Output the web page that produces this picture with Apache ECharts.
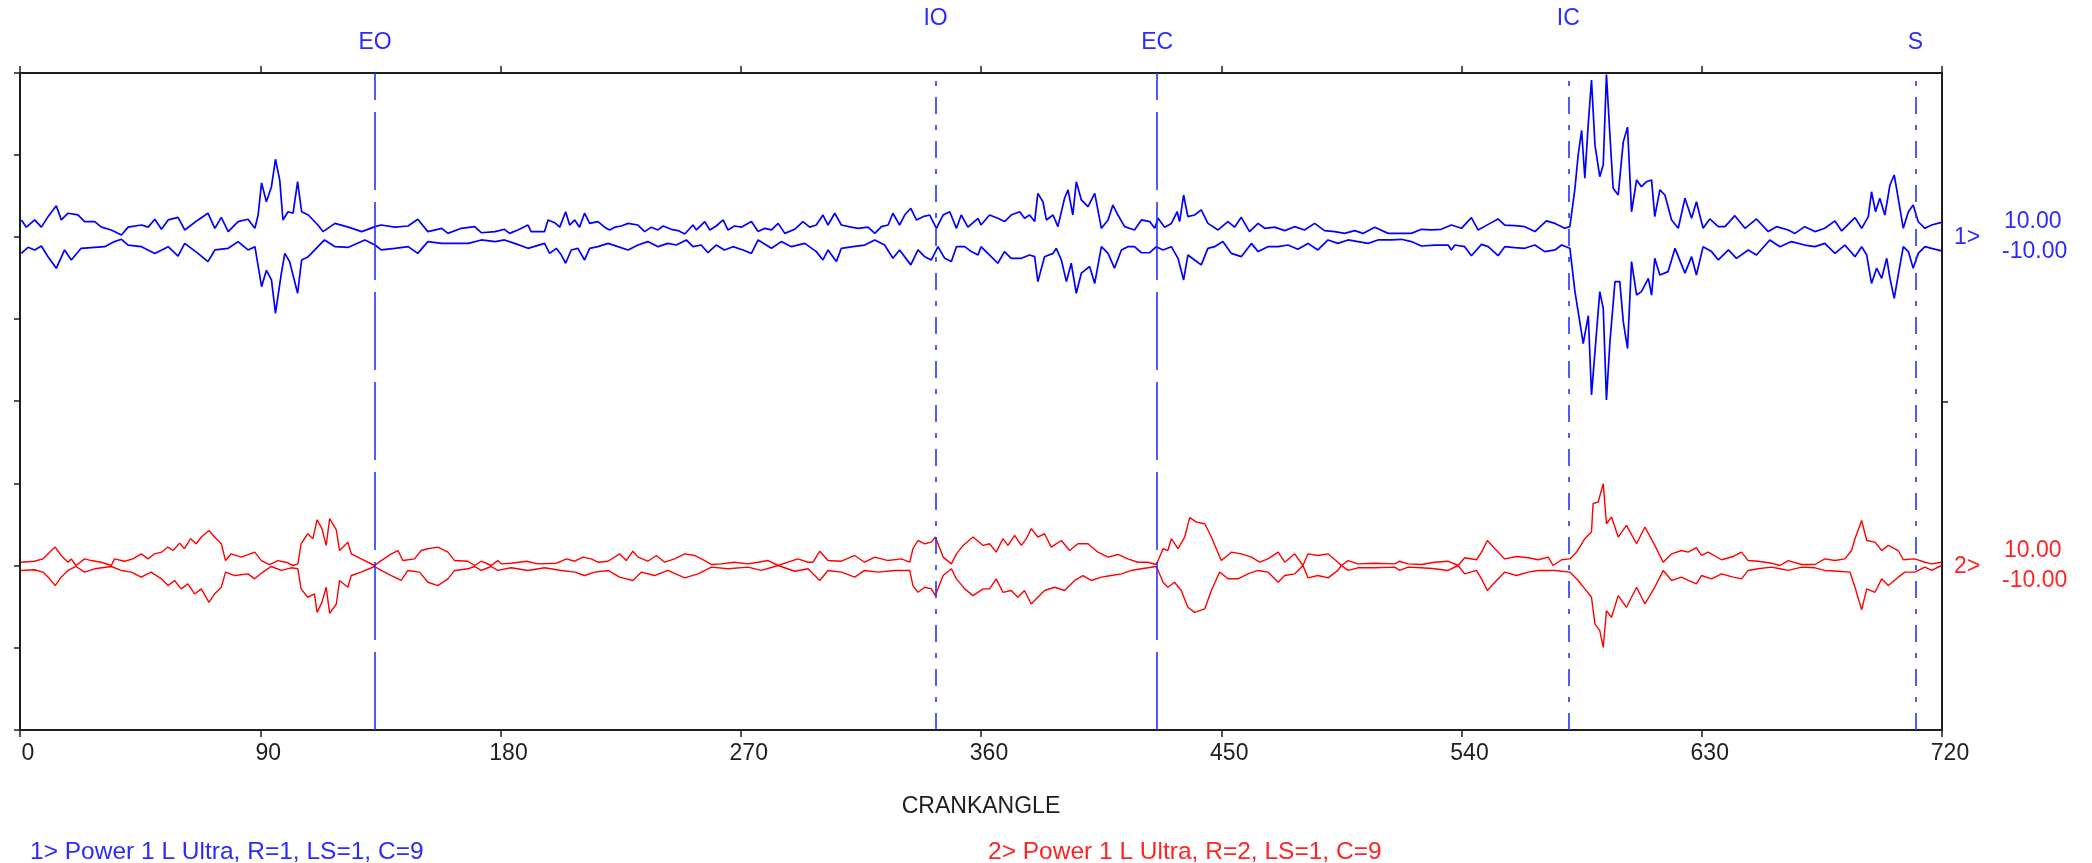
<!DOCTYPE html>
<html><head><meta charset="utf-8">
<script src="https://cdn.jsdelivr.net/npm/echarts@6/dist/echarts.min.js"></script>
<style>html,body{margin:0;padding:0;background:#fff}#c{width:2092px;height:863px}</style>
</head><body><div id="c"></div>
<script>
// ---------------- DATA ----------------
const xTickLabels = ['0','90','180','270','360','450','540','630','720'];
const xAxisName = 'CRANKANGLE';
const markerNames = ['EO','IO','EC','IC','S'];
const markerAngles = [133, 343, 426, 580, 710];
const channelTags = ['1>','2>'];
const channelMax = ['10.00','10.00'];
const channelMin = ['-10.00','-10.00'];
const legendTexts = ['1> Power 1 L Ultra, R=1, LS=1, C=9','2> Power 1 L Ultra, R=2, LS=1, C=9'];

// channel 1 (blue) upper / lower envelopes  [crank angle, value]
const blueUpper = [[0.5,1.04],[2.4,0.6],[5.5,1.04],[8,0.6],[10.5,1.24],[13.6,1.9],[15.5,1.04],[18,1.45],[21.7,1.35],[24.2,0.94],[28,0.94],[30.5,0.6],[34.2,0.43],[38,0.12],[40.5,0.6],[45.5,0.73],[48,0.6],[50.5,1.08],[53,0.47],[55.5,1.04],[59.2,1.2],[61.7,0.43],[66.7,1.04],[70.4,1.45],[73,0.53],[75.4,1.2],[78,0.33],[81.7,0.94],[85.4,1.08],[88,0.53],[89.2,1.34],[90.5,3.3],[92.3,2.15],[94.2,3.07],[95.7,4.74],[97.3,3.47],[98.5,1.04],[100.4,1.54],[102.3,1.45],[104,3.37],[105.5,1.54],[108,1.34],[111.6,0.73],[113.5,0.33],[118,0.83],[123,0.6],[128,0.33],[133,0.63],[135.3,0.73],[140.4,0.6],[145.4,0.67],[149,1.08],[152.8,0.33],[158,0.53],[160.3,0.22],[165.3,0.53],[170.3,0.63],[172.8,0.26],[178,0.33],
[181.5,0.47],[183.4,0.22],[186.5,0.43],[190.3,0.73],[191.5,0.33],[196.5,0.33],[197.8,1.04],[200.3,0.87],[202.2,0.6],[204.4,1.54],[205.9,0.73],[207.8,1.04],[209.6,0.6],[211.5,1.45],[213.4,0.83],[216.5,0.94],[219,0.6],[220.9,0.43],[222.8,0.6],[225.3,0.67],[227.8,0.83],[231.5,0.73],[234,0.33],[236.5,0.6],[239,0.43],[240.9,0.67],[244,0.47],[246.5,0.39],[249,0.18],[252.1,0.73],[253.4,0.43],[256.5,0.94],[258.4,0.43],[260.8,0.67],[263.4,1.04],[265.2,0.43],[267.7,0.67],[270.2,0.6],[274,0.94],[276.5,0.33],[279,0.53],[281.5,0.43],[284,0.83],[286.5,0.22],[290.2,0.47],[293.3,0.94],[295.8,0.6],[298.3,0.73],[300.8,1.34],[302.7,0.73],[305.2,1.45],[307.7,0.73],[311.4,0.6],[314,0.53],[317.7,0.6],[320.2,0.22],[322.7,0.63],[325.2,0.73],[327,1.45],[329.5,0.73],[331.4,1.34],[333.7,1.75],[335.8,1.04],[338.3,1.24],[340.8,1.34],[343.3,0.53],[345.8,1.34],[348.3,1.54],[350.8,0.53],[352.6,1.34],[355.1,0.6],[358.9,1.14],
[360,0.73],[363.2,1.34],[366.3,1.14],[368.8,0.94],[371.3,1.34],[374.5,1.54],[376.3,1.14],[378.2,1.34],[380.1,0.94],[381.3,2.66],[383.2,2.15],[384.5,1.04],[387,1.34],[388.8,0.63],[391.3,2.36],[392.6,2.87],[394.4,1.34],[395.7,3.37],[397.6,2.26],[400.1,1.85],[402.6,2.66],[405.1,0.53],[407.6,1.04],[409.4,1.95],[411.3,1.34],[413.8,0.63],[417.5,0.43],[420.1,1.04],[423.2,0.94],[425.1,0.53],[426.3,1.14],[428.8,0.6],[431.3,0.83],[433.5,1.54],[434.4,0.94],[435.9,2.56],[437.5,1.24],[440,1.34],[442.5,1.65],[445,0.83],[448.8,0.43],[452.5,0.94],[455,0.6],[457.5,1.2],[460.6,0.33],[463.8,0.83],[466.3,0.53],[470,0.6],[473.8,0.39],[477.5,0.63],[481.2,0.43],[485,0.83],[488.7,0.39],[492.5,0.33],[496.2,0.22],[500,0.39],[503.1,0.22],[507.5,0.6],[512.5,0.22],[517.5,0.22],[521.2,0.22],[525,0.47],[528.7,0.43],[532.4,0.47],[536.2,0.73],
[540,0.53],[543.7,1.18],[546.2,0.43],[550,0.77],[553.7,1.1],[556.2,0.73],[560,0.69],[563.7,0.63],[567.5,0.33],[571.8,0.98],[575,0.83],[578.7,0.53],[580.6,0.63],[582.5,2.97],[583.7,5.0],[585,6.5],[586.2,3.58],[587.5,6.93],[588.7,9.57],[590,5.6],[591.8,3.68],[593.1,4.4],[594.3,9.9],[595.6,6.2],[596.8,2.97],[598.7,2.56],[600.6,5.8],[602.2,6.7],[603.7,1.54],[605.6,3.48],[607.4,3.07],[609.3,3.37],[611.2,3.48],[612.4,1.24],[614.3,2.87],[616.2,2.56],[618.7,1.04],[621.2,0.53],[623.7,2.36],[626.2,1.14],[628,2.15],[630.5,0.53],[633,1.1],[636.2,0.63],[638.7,0.63],[642.4,1.3],[646.2,0.53],[650.5,1.1],[654.9,0.33],[658,0.63],[662.4,0.43],[664.9,0.22],[668.6,0.63],[672.4,0.33],[676.1,0.53],[679.9,0.98],[682.4,0.37],[687.4,1.18],[689.9,0.53],[692.4,1.24],[693.6,2.76],[695.1,1.54],[696.7,2.36],[698.6,1.34],[700.5,3.17],[702.1,3.78],[703.6,2.36],[705.5,0.53],[707.4,1.54],[709.2,1.95],[711.1,0.93],[713.6,0.53],[716.1,0.73],[719.8,0.89]];

const blueLower = [[0.5,-1.0],[3,-0.63],[5.5,-0.79],[8,-0.55],[10.5,-1.2],[13.6,-1.91],[16.7,-0.79],[19.2,-1.4],[22.9,-0.69],[28,-0.63],[31.7,-0.59],[35.4,-0.28],[38,-0.14],[40.5,-0.49],[45.5,-0.59],[50.5,-1.0],[55.5,-0.59],[59.2,-1.16],[61.7,-0.39],[66.7,-1.0],[70.4,-1.5],[73,-0.79],[78,-0.69],[81.7,-0.28],[85.4,-0.79],[88,-0.59],[90.5,-3.03],[92.3,-2.03],[94.2,-2.62],[95.7,-4.65],[97.9,-2.22],[99.2,-1.0],[101,-1.5],[104,-3.43],[105.5,-1.4],[108,-1.2],[111.6,-0.59],[114.1,-0.18],[118,-0.59],[123,-0.63],[129.2,-0.18],[133,-0.49],[135.3,-0.79],[140.4,-0.69],[145.4,-0.59],[149,-1.0],[152.8,-0.28],[158,-0.39],[163,-0.39],[168,-0.39],[172.8,-0.18],[178,-0.28],
[181.5,-0.18],[185.3,-0.39],[190.3,-0.69],[196.5,-0.39],[198.4,-1.0],[200.9,-0.69],[202.8,-1.1],[204.4,-1.6],[206.5,-0.79],[209,-0.69],[211.5,-1.4],[213.4,-0.69],[216.5,-0.59],[220.3,-0.39],[224,-0.59],[227.8,-0.79],[231.5,-0.49],[235.2,-0.28],[239,-0.59],[242.7,-0.39],[245.9,-0.49],[249.6,-0.18],[252.1,-0.59],[255.2,-0.49],[257.7,-0.96],[260.8,-0.49],[263.9,-0.79],[267.1,-0.59],[270.8,-0.79],[274,-1.0],[276.5,-0.18],[281.5,-0.69],[285.2,-0.28],[289,-0.59],[294,-0.39],[298.3,-0.89],[300.8,-1.4],[302.7,-0.79],[305.8,-1.5],[307.7,-0.69],[312,-0.59],[316.4,-0.49],[320.2,-0.18],[323.9,-0.49],[327,-1.3],[329.5,-0.79],[333.7,-1.7],[336.4,-0.79],[338.9,-1.2],[341.4,-1.4],[343.9,-0.59],[346.4,-1.3],[348.9,-1.5],[350.8,-0.59],[353.9,-0.59],[356.4,-0.89],[358.9,-1.1],
[360,-0.59],[363.8,-1.2],[366.3,-1.6],[368.8,-0.89],[371.3,-1.3],[375.1,-1.3],[378.2,-1.1],[380.1,-1.2],[381.3,-2.72],[383.8,-1.2],[387,-1.0],[388.2,-0.69],[390.1,-1.4],[392,-2.72],[393.8,-1.6],[395.7,-3.43],[397.6,-2.2],[400.7,-1.8],[402.6,-2.83],[405.1,-0.59],[407.6,-1.0],[410,-1.9],[412.6,-0.79],[415,-0.59],[417.5,-0.59],[420.1,-0.96],[423.2,-0.96],[425.7,-0.59],[428.2,-0.79],[431.3,-0.59],[433.8,-1.3],[435.9,-2.62],[437.5,-1.1],[440,-1.4],[442.5,-1.7],[445,-0.69],[447.5,-0.59],[450.6,-0.28],[453.8,-1.0],[457.5,-1.2],[461.3,-0.39],[463.8,-0.89],[467.5,-0.59],[471.3,-0.59],[475,-0.49],[478.7,-0.75],[482.5,-0.39],[486.2,-0.79],[490,-0.18],[493.7,-0.39],[497.5,-0.18],[501.2,-0.28],[505,-0.39],[508.7,-0.18],[513.7,-0.18],[517.5,-0.14],[521.2,-0.28],[525,-0.55],[530,-0.49],[535,-0.49],[536.2,-0.79],
[537.5,-0.49],[541.2,-0.59],[543.7,-1.14],[547.5,-0.45],[550,-0.59],[553.7,-1.14],[556.2,-0.59],[560,-0.65],[563.7,-0.69],[567.5,-0.49],[571.2,-0.89],[575,-0.79],[577.5,-0.49],[580.6,-0.69],[582.5,-3.33],[584.3,-5.16],[585.6,-6.5],[587.5,-4.8],[588.7,-9.63],[590,-7.0],[591.8,-3.33],[593.1,-4.35],[594.3,-9.94],[595.6,-6.4],[597.5,-2.72],[599.3,-2.72],[600.6,-5.16],[602.2,-6.8],[603.7,-1.5],[605.6,-3.54],[607.4,-3.33],[610,-2.52],[611.2,-3.54],[612.4,-1.3],[614.3,-2.32],[617.4,-2.11],[620,-0.69],[623.7,-2.2],[626.2,-1.2],[628,-2.32],[630.5,-0.59],[633.7,-0.89],[636.2,-1.4],[640,-0.79],[643,-1.3],[647.4,-0.79],[650.5,-1.1],[655.5,-0.18],[659.3,-0.59],[663.6,-0.28],[668.6,-0.49],[672.4,-0.59],[676.1,-0.39],[679.9,-1.0],[683.6,-0.49],[687.4,-1.2],[689.9,-0.59],[691.8,-1.1],[693.6,-2.83],[695.5,-1.9],[697.4,-2.52],[699.3,-1.3],[700.5,-2.52],[702.1,-3.74],[703.6,-2.32],[705.5,-0.59],[707.4,-0.89],[709.2,-1.9],[711.1,-1.0],[713.6,-0.59],[716.1,-0.69],[719.8,-0.85]];

// channel 2 (red) upper / lower envelopes  [crank angle, value]
const redUpper = [[0.4,0.2],[5.4,0.26],[8.6,0.4],[11.1,0.81],[13.2,1.12],[15.4,0.61],[18,0.2],[19.2,0.4],[21,0.0],[24.2,0.4],[26.7,0.3],[30.4,0.2],[34.2,0.0],[35.4,0.4],[39.2,0.26],[42.3,0.4],[45.4,0.71],[48,0.4],[50.4,0.71],[53,0.81],[55.4,1.12],[57.3,0.91],[59.8,1.36],[61.6,1.02],[63.9,1.63],[66,1.32],[67.9,1.73],[70.8,2.13],[72.9,1.73],[75.4,1.32],[77,0.3],[79.1,0.71],[82.9,0.51],[87.9,0.81],[90.4,0.3],[93.5,0.06],[96.6,0.3],[99.7,0.2],[102.2,0.0],[104.1,0.1],[105.3,1.32],[107.8,1.93],[109.7,1.63],[111.3,2.78],[113.1,2.24],[114.7,1.22],[116,2.85],[118.5,2.17],[119.7,0.91],[122.8,1.42],[124.1,0.71],[127.8,0.4],[132.8,0.0],[135.3,0.3],[139.1,0.71],[141.6,0.91],[143.4,0.3],[147.8,0.4],[150.3,0.91],[152.8,1.02],[156.5,1.12],[160.3,0.81],[162.8,0.3],[167.8,0.26],[170.3,0.0],[172.8,0.26],[176.5,0.0],[179,0.3],
[180.3,0.1],[184,0.14],[189.7,0.26],[194,0.1],[200.9,0.14],[202.8,0.26],[204.7,0.4],[207.8,0.26],[210.9,0.51],[214,0.4],[216.5,0.2],[220.3,0.26],[224.6,0.71],[227.1,0.3],[229.6,0.87],[231.5,0.51],[235.2,0.26],[238.4,0.61],[241.5,0.2],[245.2,0.4],[249,0.71],[252.7,0.61],[256.5,0.3],[259,0.06],[262.7,0.1],[267.7,0.2],[272.7,0.1],[276.5,0.2],[280.2,0.3],[284,0.0],[287.7,0.2],[291.4,0.4],[295.2,0.2],[297.1,0.2],[299.6,0.87],[302.7,0.3],[307.7,0.26],[312.7,0.61],[316.4,0.2],[320.2,0.51],[325.2,0.3],[330.2,0.4],[333.3,0.2],[334.5,1.02],[336.4,1.52],[338.9,1.32],[341.4,1.42],[342.9,1.73],[345.8,0.51],[348.9,0.1],[350.8,0.71],[353.3,1.22],[357,1.73],[360.8,1.22],
[363.2,1.32],[365.7,0.81],[368.2,1.63],[370.1,1.22],[372.6,1.83],[375.1,1.22],[377,1.63],[378.8,2.24],[381.3,1.73],[383.8,1.93],[386.3,1.12],[390.1,1.52],[393.2,0.91],[396.3,1.32],[400.1,1.32],[403.8,0.81],[407.6,0.51],[411.3,0.67],[415,0.4],[418.8,0.2],[422.5,0.2],[425.7,0.06],[428.2,1.02],[430,0.91],[431.3,1.63],[433.8,1.02],[436.3,1.73],[438.2,2.91],[440.7,2.64],[443.8,2.54],[446.3,1.73],[450,0.3],[453.8,0.81],[457.5,0.71],[461.3,0.51],[464.4,0.2],[467.5,0.4],[471.3,0.81],[473.8,0.2],[477.5,0.71],[480.6,0.0],[482.5,0.71],[486.2,0.61],[490,0.71],[493.7,0.2],[495,0.0],[497.5,0.3],[501.2,0.1],[507.5,0.14],[515,0.1],[516.8,0.26],[520,0.1],[525,0.06],[530,0.2],[535,0.26],[538.7,0.0],
[541.2,0.47],[545.6,0.35],[547.5,0.81],[549.7,1.52],[552.5,1.02],[556.2,0.4],[560.6,0.55],[565,0.47],[568.7,0.35],[572.5,0.51],[574.3,0.0],[577.5,0.35],[580.6,0.4],[583.1,0.81],[586.2,1.63],[588.7,2.03],[589.3,3.76],[591.2,3.86],[593.1,4.98],[594.3,2.54],[596.2,2.95],[598.7,1.73],[601.8,2.44],[605.6,1.32],[608.7,2.34],[612.4,1.22],[615.6,0.2],[618.7,0.71],[622.4,0.91],[624.9,0.81],[628,1.08],[629.9,0.61],[632.4,0.81],[637.4,0.35],[641.8,0.55],[644.9,0.81],[647.4,0.3],[651.1,0.26],[656.1,0.14],[659.3,0.0],[662.4,0.3],[667.4,0.06],[672.4,0.06],[676.1,0.4],[679.9,0.3],[683.6,0.4],[686.1,0.91],[687.4,1.63],[689.9,2.74],[691.8,1.52],[694.9,1.42],[697.4,0.91],[699.9,1.22],[703.6,0.91],[705.5,0.35],[709.8,0.4],[713.6,0.2],[716.1,0.1],[719.8,0.2]];

const redLower = [[0.4,-0.3],[5.4,-0.26],[8.6,-0.4],[11.1,-0.81],[13.2,-1.22],[15.4,-0.71],[18,-0.3],[21,-0.06],[24.2,-0.4],[27.9,-0.2],[34.2,-0.06],[37.9,-0.3],[41.7,-0.4],[45.4,-0.71],[49.1,-0.4],[53,-0.81],[55.4,-1.22],[57.9,-0.91],[60.4,-1.42],[62.9,-1.12],[65.4,-1.73],[67.9,-1.42],[70.8,-2.24],[72.9,-1.73],[75.4,-1.32],[77,-0.4],[80.4,-0.61],[85.4,-0.51],[87.9,-0.81],[91,-0.4],[94.1,-0.06],[97.9,-0.3],[101.6,-0.14],[104.1,-0.2],[105.3,-1.42],[107.8,-1.93],[110.3,-1.73],[111.3,-2.85],[113.1,-2.24],[114.7,-1.32],[116,-2.91],[118.5,-2.34],[119.7,-0.91],[122.8,-1.32],[124.1,-0.61],[127.8,-0.4],[132.8,-0.06],[135.3,-0.3],[139.1,-0.61],[142.8,-0.91],[145.3,-0.3],[149.7,-0.4],[152.8,-1.02],[156.5,-1.22],[160.3,-0.81],[162.8,-0.3],[167.8,-0.2],[170.3,-0.06],[172.8,-0.3],[176.5,-0.06],[179,-0.3],
[184,-0.14],[190.3,-0.3],[196.5,-0.14],[202.8,-0.3],[207.8,-0.4],[211.5,-0.61],[215.3,-0.4],[220.3,-0.3],[224.6,-0.71],[229.6,-0.91],[232.8,-0.4],[237.7,-0.61],[242.7,-0.3],[249,-0.75],[254,-0.51],[259,-0.1],[265.2,-0.2],[272.7,-0.1],[277.7,-0.3],[284,0.0],[290.2,-0.35],[295.2,-0.2],[299.6,-0.91],[302.7,-0.3],[307.7,-0.4],[312.7,-0.71],[316.4,-0.3],[321.4,-0.4],[327.7,-0.3],[333.3,-0.3],[334.5,-1.22],[336.4,-1.63],[338.9,-1.32],[341.4,-1.42],[342.9,-1.83],[345.8,-0.61],[348.9,-0.2],[350.8,-0.81],[353.9,-1.42],[357,-1.83],[360.8,-1.42],
[363.2,-1.42],[365.7,-0.81],[368.2,-1.63],[371.3,-1.52],[373.8,-1.93],[376.3,-1.52],[378.8,-2.34],[381.3,-1.93],[383.8,-1.52],[387.6,-1.32],[391.3,-1.52],[395.1,-0.91],[398.2,-0.61],[401.3,-0.91],[405.1,-0.71],[408.8,-0.61],[412.6,-0.51],[416.3,-0.3],[420.1,-0.2],[425.7,-0.06],[428.2,-1.02],[430,-1.32],[432.5,-1.02],[435,-1.52],[437.5,-2.54],[440,-2.85],[443.8,-2.64],[446.3,-1.52],[449.4,-0.4],[452.5,-0.81],[456.3,-0.81],[460,-0.51],[463.8,-0.3],[467.5,-0.4],[471.3,-1.02],[473.8,-0.61],[477.5,-0.51],[480.6,0.0],[482.5,-0.75],[486.2,-0.61],[490,-0.75],[493.7,-0.3],[495,0.0],[497.5,-0.3],[501.2,-0.14],[507.5,-0.14],[515,-0.1],[516.8,-0.3],[520,-0.1],[525,-0.14],[530,-0.2],[535,-0.3],[538.7,0.0],
[541.2,-0.51],[545.6,-0.3],[547.5,-0.81],[549.7,-1.52],[552.5,-1.02],[556.2,-0.4],[560.6,-0.61],[565,-0.4],[568.7,-0.3],[572.5,-0.3],[575,-0.3],[580.6,-0.4],[583.7,-0.91],[586.2,-1.42],[588.7,-1.93],[590,-3.56],[591.8,-3.96],[593.1,-4.98],[594.3,-2.74],[596.2,-3.15],[598.7,-1.83],[601.8,-2.54],[605.6,-1.32],[608.7,-2.34],[612.4,-1.32],[615.6,-0.3],[618.7,-0.91],[622.4,-0.71],[624.9,-0.91],[628,-1.12],[629.9,-0.61],[633.7,-0.81],[637.4,-0.51],[641.8,-0.71],[644.9,-0.81],[647.4,-0.3],[651.1,-0.2],[656.1,-0.1],[659.3,-0.2],[662.4,-0.3],[667.4,-0.1],[672.4,-0.14],[676.1,-0.3],[681.1,-0.35],[685.5,-0.4],[687.4,-1.32],[689.9,-2.7],[691.8,-1.42],[694.9,-1.63],[697.4,-0.81],[699.9,-1.22],[703.6,-0.71],[706.1,-0.4],[709.8,-0.4],[713.6,-0.1],[716.1,-0.3],[719.8,0.0]];

// ---------------- RENDER ----------------
const chart = echarts.init(document.getElementById('c'), null, {renderer: 'canvas'});
const FONT = '"Liberation Sans", Arial, sans-serif';
const FS = 23, FS_LEGEND = 24.5;
const BLUE = '#0000ff', RED = '#ff0000', TBLUE = '#2b2bff', TRED = '#ff2424', AX = '#1e1e1e', MBLUE = '#2233ff';
const GL = 20, GRIGHT = 150, GT = 73, GH = 328;
const raisedMarkers = {IO: true, IC: true};
const longDash = [78, 12], dashDot = [17, 11, 5, 11];
const dashFor = n => (n === 'EO' || n === 'EC') ? longDash : dashDot;

const axisLineStyle = {color: AX, width: 2};
const baseX = {type: 'value', min: 0, max: 720, interval: 90, splitLine: {show: false}};
const baseY = {type: 'value', min: -10, max: 10, interval: 5, splitLine: {show: false},
  axisLine: {show: true, onZero: false, lineStyle: axisLineStyle},
  axisTick: {show: true, length: 6, lineStyle: {color: AX, width: 1.5}}, axisLabel: {show: false}};

const lineSeries = (data, xi, color, w) => ({type: 'line', xAxisIndex: xi, yAxisIndex: xi, data: data,
  showSymbol: false, symbol: 'none', silent: true, lineStyle: {color: color, width: w}, z: 3});

const option = {
  animation: false,
  backgroundColor: '#ffffff',
  grid: [
    {left: GL, right: GRIGHT, top: GT, height: GH},
    {left: GL, right: GRIGHT, top: GT + GH, height: GH + 1},
    {left: GL, right: GRIGHT, top: GT, height: 2 * GH + 1}
  ],
  xAxis: [
    Object.assign({}, baseX, {gridIndex: 0, position: 'top',
      axisLine: {show: true, onZero: false, lineStyle: axisLineStyle},
      axisTick: {show: true, length: 7, lineStyle: {color: AX, width: 1.5}}, axisLabel: {show: false}}),
    Object.assign({}, baseX, {gridIndex: 1, position: 'bottom',
      axisLine: {show: true, onZero: false, lineStyle: axisLineStyle},
      axisTick: {show: true, length: 7, lineStyle: {color: AX, width: 1.5}},
      axisLabel: {show: true, color: AX, fontSize: FS, fontFamily: FONT, margin: 12, padding: [0, 0, 0, 16],
        formatter: v => xTickLabels[Math.round(v / 90)]}}),
    Object.assign({}, baseX, {gridIndex: 2, show: false})
  ],
  yAxis: [
    Object.assign({}, baseY, {gridIndex: 0, position: 'left'}),
    Object.assign({}, baseY, {gridIndex: 1, position: 'left'}),
    {gridIndex: 2, type: 'value', min: 0, max: 2, interval: 1, position: 'right', splitLine: {show: false},
      axisLine: {show: true, onZero: false, lineStyle: axisLineStyle},
      axisTick: {show: true, length: 6, customValues: [1], lineStyle: {color: AX, width: 1.5}},
      axisLabel: {show: false}}
  ],
  series: [
    lineSeries(blueUpper, 0, BLUE, 1.7),
    lineSeries(blueLower, 0, BLUE, 1.7),
    lineSeries(redUpper, 1, RED, 1.4),
    lineSeries(redLower, 1, RED, 1.4),
    {type: 'line', xAxisIndex: 2, yAxisIndex: 2, data: [], silent: true, z: 2,
      markLine: {silent: true, symbol: ['none', 'none'], label: {show: false}, animation: false,
        data: markerAngles.map((a, i) => ({xAxis: a,
          lineStyle: {color: MBLUE, width: 1.6, type: dashFor(markerNames[i])}}))}}
  ]
};
chart.setOption(option);

// text overlays positioned through the chart's own scales
const txt = (text, x, y, color, align, size) => ({type: 'text', x: x, y: y, silent: true, z: 10,
  style: {text: text, fill: color, font: (size || FS) + 'px ' + FONT, align: align || 'center', verticalAlign: 'middle',
    textAlign: align || 'center', textVerticalAlign: 'middle'}});
const g = [];
markerNames.forEach((n, i) => {
  const px = chart.convertToPixel({xAxisIndex: 2}, markerAngles[i]);
  g.push(txt(n, px, raisedMarkers[n] ? GT - 54 : GT - 30, TBLUE));
});
const rightX = chart.convertToPixel({xAxisIndex: 2}, 720);
[0, 1].forEach(ch => {
  const cy = chart.convertToPixel({yAxisIndex: ch}, 0);
  const col = ch === 0 ? TBLUE : TRED;
  g.push(txt(channelTags[ch], rightX + 12, cy + 1, col, 'left'));
  g.push(txt(channelMax[ch], rightX + 62, cy - 15, col, 'left'));
  g.push(txt(channelMin[ch], rightX + 60, cy + 15, col, 'left'));
});
const bottomY = chart.convertToPixel({yAxisIndex: 1}, -10);
g.push(txt(xAxisName, (GL + rightX) / 2, bottomY + 77, AX, 'center'));
g.push(txt(legendTexts[0], 30, bottomY + 122, TBLUE, 'left', FS_LEGEND));
g.push(txt(legendTexts[1], 988, bottomY + 122, TRED, 'left', FS_LEGEND));
chart.setOption({graphic: g});
</script>
</body></html>
